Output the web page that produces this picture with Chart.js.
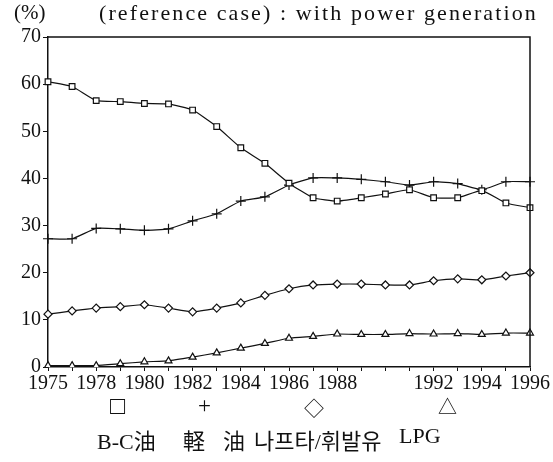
<!DOCTYPE html>
<html>
<head>
<meta charset="utf-8">
<script src="https://cdn.jsdelivr.net/npm/chart.js@4/dist/chart.umd.min.js"></script>
<style>
  body { margin: 0; background: #fff; }
  #wrap { position: relative; width: 553px; height: 462px; }
  canvas { position: absolute; left: 0; top: 0; }
  .txt { position: absolute; font-family: "Liberation Serif", "Noto Sans CJK KR", serif; color: #111; white-space: nowrap; }
</style>
</head>
<body>
<div id="wrap">
  <canvas id="chart" width="553" height="462"></canvas>
  <div class="txt" style="left:14px; top:0px; font-size:21px;">(%)</div>
  <div class="txt" style="left:99px; top:0px; font-size:22px; letter-spacing:2.1px;">(reference case) : with power generation</div>
  <div class="txt" style="left:110px; top:392px; font-size:25px;">□</div>
  <div class="txt" style="left:198px; top:393px; font-size:23px;">+</div>
  <div class="txt" style="left:304px; top:393px; font-size:20px;">◇</div>
  <div class="txt" style="left:438px; top:392px; font-size:19px;">△</div>
  <div class="txt" style="left:97px; top:423px; font-size:22px;">B-C油</div>
  <div class="txt" style="left:183px; top:423px; font-size:22px;">軽</div>
  <div class="txt" style="left:223px; top:423px; font-size:22px;">油</div>
  <div class="txt" style="left:254px; top:423px; font-size:22px;">나프타/휘발유</div>
  <div class="txt" style="left:399px; top:423px; font-size:22px;">LPG</div>
</div>
<script>
// years plotted (one point per year, 1976 is not in the source series)
const years = ['1975', '1977', '1978', '1979', '1980', '1981', '1982', '1983', '1984', '1985', '1986',
               '1987', '1988', '1989', '1990', '1991', '1992', '1993', '1994', '1995', '1996'];
// labels printed under the axis
const yearLabels = ['1975', '', '1978', '', '1980', '', '1982', '', '1984', '', '1986',
                    '', '1988', '', '', '', '1992', '', '1994', '', '1996'];
const yTicks = [0, 10, 20, 30, 40, 50, 60, 70];

const bcOil = [60.5, 59.5, 56.5, 56.3, 55.9, 55.8, 54.5, 51.0, 46.5, 43.2, 39.0,
               35.9, 35.2, 35.9, 36.7, 37.6, 35.9, 35.9, 37.4, 34.8, 33.8];
const lightOil = [27.2, 27.2, 29.4, 29.3, 29.0, 29.3, 31.0, 32.5, 35.2, 36.1, 38.6,
                  40.1, 40.1, 39.8, 39.3, 38.6, 39.3, 38.9, 37.6, 39.3, 39.3];
const naphtha = [11.2, 11.9, 12.5, 12.8, 13.2, 12.5, 11.7, 12.5, 13.6, 15.2, 16.6,
                 17.4, 17.6, 17.6, 17.4, 17.4, 18.3, 18.7, 18.5, 19.3, 20.0];
const lpg = [0.3, 0.3, 0.3, 0.7, 1.1, 1.3, 2.1, 3.0, 4.0, 5.0, 6.1,
             6.5, 7.0, 6.9, 6.9, 7.1, 7.0, 7.1, 6.9, 7.2, 7.2];

const serif = '"Liberation Serif", "DejaVu Serif", serif';

// top and right frame lines
const frame = {
    id: 'frame',
    afterDraw(chart) {
        const { ctx, chartArea: a } = chart;
        ctx.save();
        ctx.strokeStyle = '#111';
        ctx.lineWidth = 1.5;
        ctx.beginPath();
        ctx.moveTo(a.left, a.top);
        ctx.lineTo(a.right, a.top);
        ctx.lineTo(a.right, a.bottom);
        ctx.stroke();
        ctx.restore();
    }
};

function series(data, style, radius) {
    return {
        data,
        borderColor: '#111',
        borderWidth: 1.2,
        backgroundColor: '#fff',
        pointStyle: style,
        pointRadius: radius,
        pointBorderColor: '#111',
        pointBackgroundColor: '#fff',
        pointBorderWidth: 1.2,
        tension: 0.15
    };
}

new Chart(document.getElementById('chart'), {
    type: 'line',
    data: {
        labels: years,
        datasets: [
            series(bcOil, 'rect', 4),
            series(lightOil, 'cross', 5),
            series(naphtha, 'rectRot', 4),
            series(lpg, 'triangle', 4)
        ]
    },
    options: {
        responsive: false,
        animation: false,
        layout: { padding: { top: 37, right: 23, left: 0, bottom: 0 } },
        plugins: { legend: { display: false }, tooltip: { enabled: false } },
        scales: {
            x: {
                afterFit(s) { s.height = 95; },
                grid: { drawOnChartArea: false, drawTicks: true, tickLength: 4, color: '#111' },
                border: { color: '#111', width: 1.5 },
                ticks: {
                    autoSkip: false, maxRotation: 0, color: '#111', padding: 1,
                    font: { family: serif, size: 20 },
                    callback: (v, i) => yearLabels[i]
                }
            },
            y: {
                min: yTicks[0], max: yTicks[yTicks.length - 1],
                afterFit(s) { s.width = 48; },
                afterBuildTicks(s) { s.ticks = yTicks.map(v => ({ value: v })); },
                grid: { drawOnChartArea: false, drawTicks: true, tickLength: 5, color: '#111' },
                border: { color: '#111', width: 1.5 },
                ticks: { color: '#111', padding: 2, font: { family: serif, size: 20 } }
            }
        }
    },
    plugins: [frame]
});
</script>
</body>
</html>
